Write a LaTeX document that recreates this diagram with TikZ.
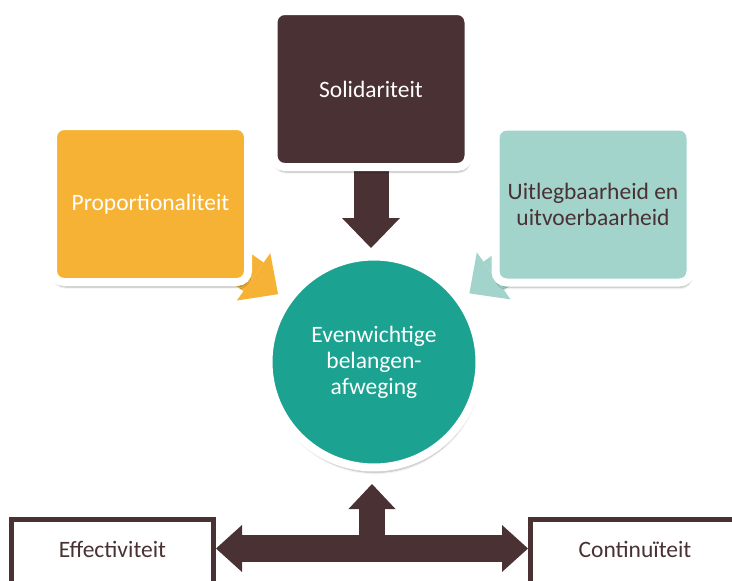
\documentclass[tikz,border=0pt]{standalone}
\usepackage{fontspec}
\setmainfont{Carlito}
\usepackage{xcolor}
\usetikzlibrary{arrows.meta,shadows.blur}
\definecolor{kastanje}{HTML}{4A3133}
\definecolor{oranje}{HTML}{F6B234}
\definecolor{groen}{HTML}{1BA291}
\definecolor{mint}{HTML}{A2D4CB}
\pgfdeclarelayer{achter}
\pgfsetlayers{achter,main}
\tikzstyle{letter} = [font=\fontsize{23.5}{26}\selectfont, align=center]
\tikzstyle{kader} = [rectangle, rounded corners=11pt, minimum width=195pt, minimum height=156pt, draw=white, line width=8pt, letter, blur shadow={shadow xshift=1pt, shadow yshift=-5pt, shadow opacity=30, shadow blur steps=6}]
\tikzstyle{kern} = [circle, minimum size=211pt, fill=groen, draw=white, line width=8pt, text=white, letter, blur shadow={shadow xshift=1pt, shadow yshift=-5pt, shadow opacity=30, shadow blur steps=6}]
\tikzstyle{rand} = [rectangle, draw=kastanje, line width=5pt, fill=white, inner sep=0pt, text height=38pt, text depth=62pt, text=kastanje, anchor=north, letter]
\tikzstyle{blok} = [line width=35pt, -{Triangle[width=58pt, length=30pt, line width=0pt]}]
\tikzstyle{balk} = [line width=27pt, kastanje, {Triangle[width=47pt, length=26pt, line width=0pt]}-{Triangle[width=47pt, length=26pt, line width=0pt]}]
\tikzstyle{stam} = [line width=26pt, kastanje, -{Triangle[width=47pt, length=25pt, line width=0pt]}]

\begin{document}
\begin{tikzpicture}[x=1pt, y=-1pt]
  \useasboundingbox (0,0) rectangle (732,581);
  \node (sol)[kader, fill=kastanje, text=white] at (371,89) {Solidariteit};
  \node (prop)[kader, fill=oranje, text=white] at (150.5,204) {Proportionaliteit};
  \node (uit)[kader, fill=mint, text=kastanje] at (593,204.5) {Uitlegbaarheid en\\uitvoerbaarheid};
  \node (circ)[kern] at (374,362) {Evenwichtige\\belangen-\\afweging};
  \node (eff)[rand, minimum width=202pt] at (112.5,516.5) {Effectiviteit};
  \node (con)[rand, minimum width=209pt] at (635,516.5) {Continuïteit};
  \coordinate (lvl) at (372,548.5);
  \begin{pgfonlayer}{achter}
    \draw [blok, oranje, shorten >=8pt](prop.center)--(circ);
    \draw [blok, mint, shorten >=8pt](uit.center)--(circ);
    \draw [blok, kastanje, shorten >=4.5pt](sol.south)--(sol.south |- circ.north);
  \end{pgfonlayer}
  \draw [balk](eff.east |- lvl)--(con.west |- lvl);
  \draw [stam, shorten >=12.5pt](lvl)--(lvl |- circ.south);
\end{tikzpicture}
\end{document}
